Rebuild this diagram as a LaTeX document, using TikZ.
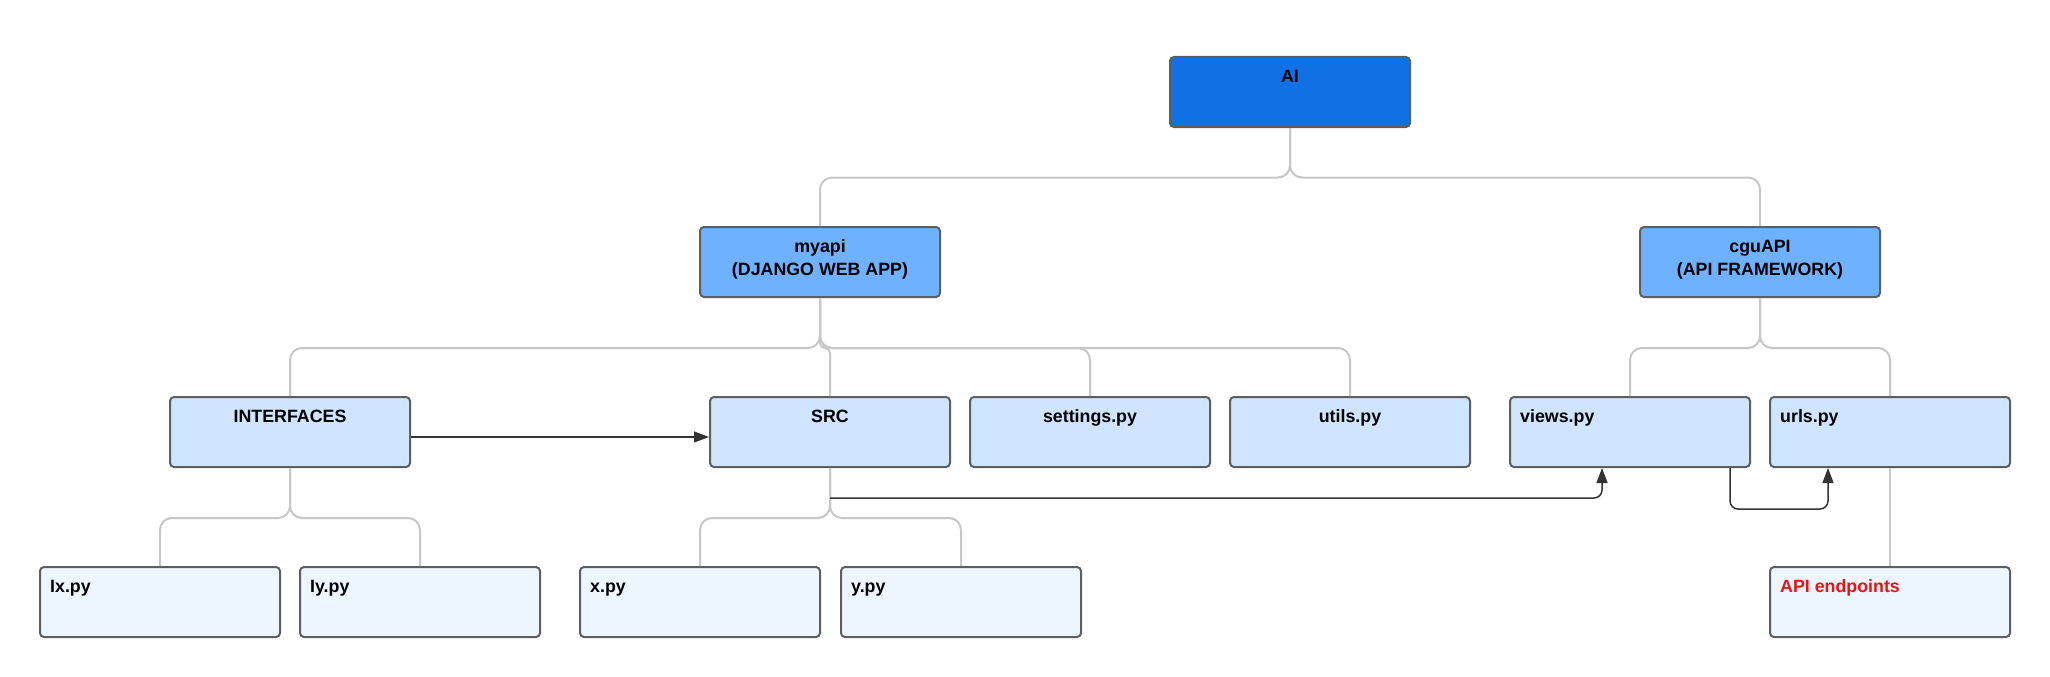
\documentclass[tikz,border=0pt]{standalone}
\usepackage{fontspec}
\setmainfont{Liberation Sans}
\usetikzlibrary{arrows.meta}
\definecolor{aiblue}{HTML}{1071E5}
\definecolor{midblue}{HTML}{6DB1FF}
\definecolor{lightblue}{HTML}{CFE4FF}
\definecolor{paleblue}{HTML}{EDF5FF}
\definecolor{bordergray}{HTML}{5E5E5E}
\definecolor{conngray}{HTML}{C7C7C7}
\definecolor{darkline}{HTML}{333333}
\definecolor{apired}{HTML}{E81313}
\begin{document}
\begin{tikzpicture}[x=1pt,y=-1pt,
  box/.style={draw=bordergray, line width=2pt, rounded corners=4pt, minimum width=240pt, minimum height=70pt, inner sep=0pt},
  lvone/.style={box, fill=aiblue},
  lvtwo/.style={box, fill=midblue},
  lvthree/.style={box, fill=lightblue},
  lvfour/.style={box, fill=paleblue},
  ttl/.style={font=\fontsize{17.8}{22.5}\selectfont\bfseries, inner sep=0pt, anchor=base},
  ttll/.style={ttl, anchor=base west},
  gconn/.style={draw=conngray, line width=2pt, rounded corners=12pt},
  darr/.style={draw=darkline, line width=1.5pt, rounded corners=8pt, -{Triangle[length=15pt,width=11pt]}}
]
\fill[white] (0,0) rectangle (2050,677);
\useasboundingbox (0,0) rectangle (2050,677);

% boxes
\node[lvone] (ai) at (1290,92) {};
\node[lvtwo] (myapi) at (820,262) {};
\node[lvtwo] (cgu) at (1760,262) {};
\node[lvthree] (interfaces) at (290,432) {};
\node[lvthree] (src) at (830,432) {};
\node[lvthree] (settings) at (1090,432) {};
\node[lvthree] (utils) at (1350,432) {};
\node[lvthree] (views) at (1630,432) {};
\node[lvthree] (urls) at (1890,432) {};
\node[lvfour] (ix) at (160,602) {};
\node[lvfour] (iy) at (420,602) {};
\node[lvfour] (xpy) at (700,602) {};
\node[lvfour] (ypy) at (961,602) {};
\node[lvfour] (api) at (1890,602) {};

% texts
\node[ttl] (aiT) at ([yshift=-26.5pt]ai.north) {AI};
\node[ttl] (myapiT) at ([yshift=-26.5pt]myapi.north) {\begin{tabular}[t]{@{}c@{}}myapi\\(DJANGO WEB APP)\end{tabular}};
\node[ttl] (cguT) at ([yshift=-26.5pt]cgu.north) {\begin{tabular}[t]{@{}c@{}}cguAPI\\(API FRAMEWORK)\end{tabular}};
\node[ttl] (interfacesT) at ([yshift=-26.5pt]interfaces.north) {INTERFACES};
\node[ttl] (srcT) at ([yshift=-26.5pt]src.north) {SRC};
\node[ttl] (settingsT) at ([yshift=-26.5pt]settings.north) {settings.py};
\node[ttl] (utilsT) at ([yshift=-26.5pt]utils.north) {utils.py};
\node[ttll] (viewsT) at ([xshift=11pt,yshift=-26.5pt]views.north west) {views.py};
\node[ttll] (urlsT) at ([xshift=11pt,yshift=-26.5pt]urls.north west) {urls.py};
\node[ttll] (ixT) at ([xshift=11pt,yshift=-26.5pt]ix.north west) {Ix.py};
\node[ttll] (iyT) at ([xshift=11pt,yshift=-26.5pt]iy.north west) {Iy.py};
\node[ttll] (xpyT) at ([xshift=11pt,yshift=-26.5pt]xpy.north west) {x.py};
\node[ttll] (ypyT) at ([xshift=11pt,yshift=-26.5pt]ypy.north west) {y.py};
\node[ttll, text=apired] (apiT) at ([xshift=11pt,yshift=-26.5pt]api.north west) {API endpoints};

% tree connectors
\draw[gconn] (ai.south) -- ++(0,49.5) -| (myapi.north);
\draw[gconn] (ai.south) -- ++(0,49.5) -| (cgu.north);
\draw[gconn] (myapi.south) -- ++(0,50) -| (interfaces.north);
\draw[gconn, rounded corners=5pt] (myapi.south) -- ++(0,50) -| (src.north);
\draw[gconn] (myapi.south) -- ++(0,50) -| (settings.north);
\draw[gconn] (myapi.south) -- ++(0,50) -| (utils.north);
\draw[gconn] (cgu.south) -- ++(0,50) -| (views.north);
\draw[gconn] (cgu.south) -- ++(0,50) -| (urls.north);
\draw[gconn] (interfaces.south) -- ++(0,50) -| (ix.north);
\draw[gconn] (interfaces.south) -- ++(0,50) -| (iy.north);
\draw[gconn] (src.south) -- ++(0,50) -| (xpy.north);
\draw[gconn] (src.south) -- ++(0,50) -| (ypy.north);
\draw[gconn] (urls.south) -- (api.north);

% dark arrows
\coordinate (srcout) at ([yshift=-30pt]src.south);
\draw[darr, line width=1.2pt] ([yshift=-5pt]interfaces.east) -- ([yshift=-5pt]src.west);
\draw[darr] (srcout) -| ([xshift=-28pt]views.south);
\draw[darr] ([xshift=100pt]views.south) -- ++(0,41) -| ([xshift=-62pt]urls.south);
\end{tikzpicture}
\end{document}
